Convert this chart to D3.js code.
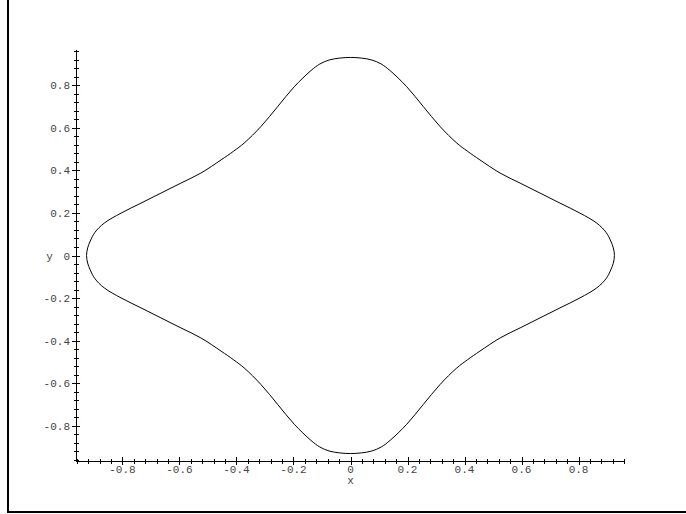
<!DOCTYPE html>
<html>
<head>
<meta charset="utf-8">
<script src="https://cdn.jsdelivr.net/npm/d3@7"></script>
<style>
  html, body { margin: 0; padding: 0; background: #fff; }
  svg { display: block; }
</style>
</head>
<body>
<svg id="chart" width="686" height="514"></svg>
<script>
// Curve points (x, y), traced counter-clockwise
const curveX = [
  0.926, 0.922, 0.913, 0.897, 0.864, 0.805, 0.735, 0.665, 0.595, 0.525, 0.454, 0.410, 0.373, 0.314, 0.255, 0.197, 0.139, 0.108, 0.075, 0.038,
  0.000, -0.038, -0.075, -0.108, -0.139, -0.197, -0.255, -0.314, -0.373, -0.410, -0.454, -0.525, -0.595, -0.665, -0.735, -0.805, -0.864, -0.897, -0.913, -0.922,
  -0.926, -0.922, -0.913, -0.897, -0.864, -0.805, -0.735, -0.665, -0.595, -0.525, -0.454, -0.410, -0.373, -0.314, -0.255, -0.197, -0.139, -0.108, -0.075, -0.038,
  0.000, 0.038, 0.075, 0.108, 0.139, 0.197, 0.255, 0.314, 0.373, 0.410, 0.454, 0.525, 0.595, 0.665, 0.735, 0.805, 0.864, 0.897, 0.913, 0.922
];
const curveY = [
  0.000, 0.036, 0.068, 0.108, 0.152, 0.199, 0.246, 0.293, 0.340, 0.387, 0.449, 0.490, 0.528, 0.606, 0.700, 0.793, 0.868, 0.899, 0.918, 0.927,
  0.930, 0.927, 0.918, 0.899, 0.868, 0.793, 0.700, 0.606, 0.528, 0.490, 0.449, 0.387, 0.340, 0.293, 0.246, 0.199, 0.152, 0.108, 0.068, 0.036,
  0.000, -0.036, -0.068, -0.108, -0.152, -0.199, -0.246, -0.293, -0.340, -0.387, -0.449, -0.490, -0.528, -0.606, -0.700, -0.793, -0.868, -0.899, -0.918, -0.927,
  -0.930, -0.927, -0.918, -0.899, -0.868, -0.793, -0.700, -0.606, -0.528, -0.490, -0.449, -0.387, -0.340, -0.293, -0.246, -0.199, -0.152, -0.108, -0.068, -0.036
];

const xTicks = [-0.8, -0.6, -0.4, -0.2, 0, 0.2, 0.4, 0.6, 0.8];
const yTicks = [-0.8, -0.6, -0.4, -0.2, 0, 0.2, 0.4, 0.6, 0.8];
const xDomain = [-0.963, 0.963];
const yDomain = [-0.965, 0.965];
const minorStep = 0.04;

const svg = d3.select("#chart");

// frame (left and bottom edges visible)
svg.append("line").attr("x1", 8).attr("x2", 8).attr("y1", 0).attr("y2", 512)
  .attr("stroke", "#000").attr("stroke-width", 2);
svg.append("line").attr("x1", 7).attr("x2", 686).attr("y1", 512).attr("y2", 512)
  .attr("stroke", "#000").attr("stroke-width", 2);

const x = d3.scaleLinear().domain(xDomain).range([76, 625]);
const y = d3.scaleLinear().domain(yDomain).range([461, 50]);

const x0 = x(xDomain[0]);
const y0 = y(yDomain[0]);

const minorX = d3.range(Math.ceil(xDomain[0] / minorStep - 1e-9), Math.floor(xDomain[1] / minorStep + 1e-9) + 1)
  .map(i => +(i * minorStep).toFixed(2));
const minorY = d3.range(Math.ceil(yDomain[0] / minorStep - 1e-9), Math.floor(yDomain[1] / minorStep + 1e-9) + 1)
  .map(i => +(i * minorStep).toFixed(2));

const axesG = svg.append("g").attr("stroke", "#000").attr("stroke-width", 1).attr("shape-rendering", "crispEdges");

axesG.append("line").attr("x1", x(xDomain[0])).attr("x2", x(xDomain[1])).attr("y1", y0).attr("y2", y0);
axesG.append("line").attr("x1", x0).attr("x2", x0).attr("y1", y(yDomain[0])).attr("y2", y(yDomain[1]));

axesG.selectAll(".mx").data(minorX).join("line")
  .attr("x1", d => Math.round(x(d)) + 0.5).attr("x2", d => Math.round(x(d)) + 0.5)
  .attr("y1", y0 - 2.5).attr("y2", y0 + 2.5);
axesG.selectAll(".my").data(minorY).join("line")
  .attr("y1", d => Math.round(y(d)) + 0.5).attr("y2", d => Math.round(y(d)) + 0.5)
  .attr("x1", x0 - 2.5).attr("x2", x0 + 2.5);

axesG.selectAll(".Mx").data(xTicks).join("line")
  .attr("x1", d => Math.round(x(d)) + 0.5).attr("x2", d => Math.round(x(d)) + 0.5)
  .attr("y1", y0 - 4).attr("y2", y0 + 4);
axesG.selectAll(".My").data(yTicks).join("line")
  .attr("y1", d => Math.round(y(d)) + 0.5).attr("y2", d => Math.round(y(d)) + 0.5)
  .attr("x1", x0 - 4).attr("x2", x0 + 4);

const fmt = d => d === 0 ? "0" : d3.format(".1f")(d).replace("−", "-");
const font = "'Liberation Mono', 'DejaVu Sans Mono', monospace";

svg.append("g").selectAll("text").data(xTicks).join("text")
  .attr("x", d => x(d)).attr("y", y0 + 12)
  .attr("text-anchor", "middle")
  .attr("font-family", font).attr("font-size", 11).attr("fill", "#444")
  .text(fmt);

svg.append("g").selectAll("text").data(yTicks).join("text")
  .attr("x", x0 - 6).attr("y", d => y(d) + 4)
  .attr("text-anchor", "end")
  .attr("font-family", font).attr("font-size", 11).attr("fill", "#444")
  .text(fmt);

svg.append("text").attr("x", x(0)).attr("y", y0 + 23)
  .attr("text-anchor", "middle")
  .attr("font-family", font).attr("font-size", 11).attr("fill", "#444")
  .text("x");
svg.append("text").attr("x", 49.5).attr("y", y(0) + 4)
  .attr("text-anchor", "middle")
  .attr("font-family", font).attr("font-size", 11).attr("fill", "#444")
  .text("y");

const pts = curveX.map((v, i) => [v, curveY[i]]);
const line = d3.line().x(d => x(d[0])).y(d => y(d[1])).curve(d3.curveCatmullRomClosed.alpha(0.5));
svg.append("path").datum(pts)
  .attr("d", line)
  .attr("fill", "none").attr("stroke", "#000").attr("stroke-width", 1);
</script>
</body>
</html>
